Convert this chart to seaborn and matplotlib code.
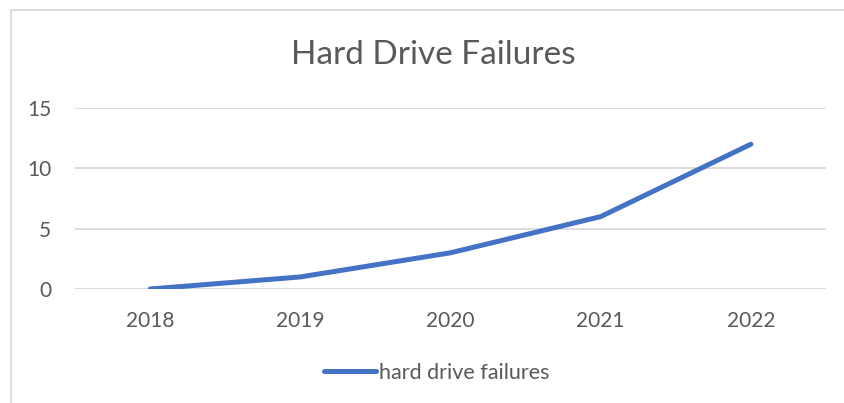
import pandas as pd
import matplotlib.pyplot as plt
import seaborn as sns
from matplotlib.lines import Line2D

# Data
years = ["2018", "2019", "2020", "2021", "2022"]
failures = [0, 1, 3, 6, 12]
series_name = "hard drive failures"

df = pd.DataFrame({"year": years, "failures": failures, "series": series_name})

sns.set_theme(style="white")
plt.rcParams['font.family'] = ['Lato', 'DejaVu Sans']

text_color = "#595959"
grid_color = "#d9d9d9"
line_color = "#4472C4"

W, H = 844, 403
fig = plt.figure(figsize=(W / 100, H / 100), dpi=100)
ax = fig.add_axes([75 / W, 1 - 289 / H, (826 - 75) / W, (289 - 108) / H])

sns.lineplot(data=df, x="year", y="failures", hue="series", palette=[line_color],
             linewidth=3.6, ax=ax, solid_capstyle="round", legend=False)

ax.set_xlim(-0.5, len(years) - 0.5)
ax.set_ylim(0, 15)
ax.set_yticks([0, 5, 10, 15])
ax.grid(axis="y", color=grid_color, linewidth=1.3)
ax.set_axisbelow(True)
for s in ax.spines.values():
    s.set_visible(False)
ax.tick_params(axis="both", length=0, labelsize=15, labelcolor=text_color)
ax.tick_params(axis="x", pad=16)
ax.tick_params(axis="y", pad=17)
ax.set_xlabel("")
ax.set_ylabel("")

fig.text(433 / W, 1 - 55 / H, "Hard Drive Failures", ha="center", va="center",
         fontsize=24, color=text_color)

# legend
handle = Line2D([], [], color=line_color, linewidth=3.6, solid_capstyle="round")
fig.legend([handle], [series_name], loc="center", bbox_to_anchor=(437 / W, 1 - 373 / H),
           frameon=False, fontsize=15.5, labelcolor=text_color, handlelength=2.4,
           handletextpad=0.15)

# chart border (only top and left visible in the crop)
fig.add_artist(Line2D([10.5 / W, 10.5 / W], [0, 1 - 9.5 / H], color=grid_color,
                      linewidth=1.3, transform=fig.transFigure))
fig.add_artist(Line2D([10.5 / W, 1], [1 - 9.5 / H, 1 - 9.5 / H], color=grid_color,
                      linewidth=1.3, transform=fig.transFigure))

fig.savefig("out.png", dpi=100, facecolor="white")
